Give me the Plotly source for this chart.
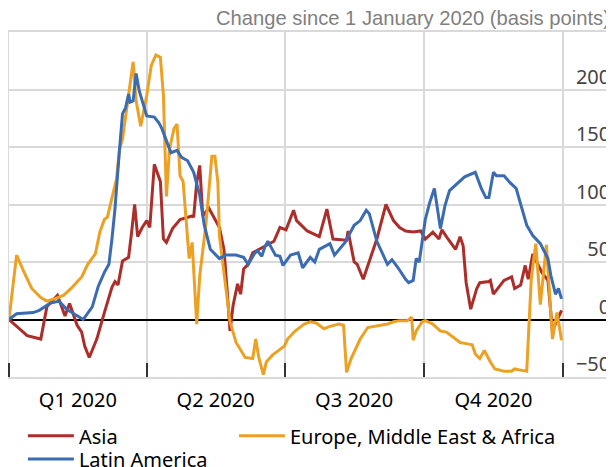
import plotly.graph_objects as go
import pandas as pd

# Days since 1 January 2020 and change in spreads (basis points)
asia_days = [0, 12, 21, 25, 32, 37, 40, 45, 48, 50, 53, 58, 63, 68, 70, 72, 75, 79, 81, 83, 85, 88, 91, 93,
             96, 100, 102, 104, 108, 113, 121, 122, 124, 126, 128, 132, 139, 142, 144, 146, 148, 151, 153,
             155, 158, 161, 168, 175, 179, 183, 188, 190, 197, 205, 210, 214, 223, 224, 228, 230, 234, 243,
             249, 254, 258, 262, 267, 272, 275, 280, 284, 286, 290, 295, 298, 300, 302, 305, 309, 311, 317,
             318, 320, 327, 332, 334, 338, 341, 343, 346, 352, 356, 359, 363, 365]
asia_vals = [0, -14, -17, 11, 21, 3, 14, -5, -11, -23, -33, -17, 6, 28, 33, 30, 51, 54, 76, 100, 72, 80, 86, 80,
             135, 120, 70, 67, 79, 87, 90, 89, 119, 134, 90, 97, 80, 61, 27, -10, 12, 31, 22,
             44, 48, 58, 63, 68, 80, 78, 95, 86, 77, 72, 96, 70, 69, 77, 50, 48, 35, 70,
             100, 86, 80, 77, 76, 77, 70, 76, 70, 78, 70, 61, 72, 64, 32, 9, 27, 32, 33,
             34, 22, 34, 37, 27, 30, 47, 35, 57, 41, 34, -10, 1, 8]

emea_days = [0, 5, 10, 15, 21, 25, 30, 36, 41, 48, 52, 57, 60, 63, 65, 68, 71, 73, 75, 79, 82, 84, 87, 91,
             94, 97, 100, 102, 104, 106, 109, 111, 113, 115, 117, 119, 121, 124, 126, 130, 132, 134, 136,
             138, 139, 143, 146, 150, 156, 161, 163, 165, 168, 170, 174, 179, 182, 184, 189, 195, 199, 203,
             208, 212, 218, 221, 223, 226, 232, 237, 245, 250, 254, 258, 263, 266, 267, 269, 273, 275, 280,
             285, 289, 294, 298, 302, 306, 308, 311, 314, 318, 321, 327, 332, 334, 338, 342, 345, 348, 351,
             353, 355, 359, 362, 365]
emea_vals = [0, 56, 41, 27, 19, 16, 18, 21, 27, 37, 48, 57, 76, 87, 89, 105, 122, 148, 157, 195, 224, 190, 168, 195,
             221, 230, 228, 195, 107, 148, 166, 170, 125, 120, 87, 53, 67, -4, 38, 82, 111, 142, 142,
             119, 73, 27, -2, -20, -33, -34, -17, -33, -48, -37, -31, -26, -23, -17, -10, -4, -2, -3,
             -8, -6, -4, -5, -46, -34, -17, -7, -5, -4, -2, -1, -1, 2, -18, -10, -2, -1, -4,
             -10, -11, -16, -20, -21, -22, -30, -34, -27, -37, -43, -45, -45, -43, -44, -45, 35, 66, 13,
             40, 65, -17, 6, -18]

latam_days = [0, 5, 16, 20, 27, 33, 38, 45, 49, 55, 59, 63, 66, 68, 70, 73, 75, 77, 79, 80, 82, 84, 86, 91,
              96, 99, 101, 107, 111, 114, 118, 122, 126, 129, 133, 139, 143, 150, 155, 158, 162, 164, 167,
              169, 171, 176, 179, 181, 186, 191, 194, 199, 202, 205, 212, 215, 222, 228, 232, 236, 238, 243,
              250, 253, 257, 262, 264, 267, 269, 271, 275, 278, 281, 285, 288, 291, 296, 301, 308, 312, 315,
              317, 320, 322, 327, 331, 335, 339, 342, 346, 351, 356, 358, 361, 363, 365]
latam_vals = [0, 5, 6, 8, 14, 16, 9, 3, 0, 11, 29, 41, 48, 70, 96, 148, 179, 184, 196, 189, 190, 214, 199, 177,
              176, 171, 166, 145, 147, 141, 138, 128, 108, 82, 61, 53, 56, 56, 54, 48, 57, 60, 55,
              63, 68, 56, 55, 47, 56, 58, 45, 54, 50, 61, 66, 56, 67, 82, 86, 95, 92, 68,
              48, 52, 45, 35, 32, 34, 53, 50, 87, 102, 114, 79, 99, 112, 118, 124, 128, 114, 106,
              106, 128, 125, 125, 119, 114, 96, 82, 73, 66, 53, 38, 22, 27, 18]

series_names = ["Asia", "Europe, Middle East & Africa", "Latin America"]
series_colors = ["#AC2E2B", "#ECA124", "#3B6CB2"]
series_legends = ["legend", "legend2", "legend3"]

base = pd.Timestamp("2020-01-01")


def to_dates(days):
    return [base + pd.Timedelta(days=d) for d in days]


fig = go.Figure()
for name, color, lg, days, vals in [
    (series_names[0], series_colors[0], series_legends[0], asia_days, asia_vals),
    (series_names[1], series_colors[1], series_legends[1], emea_days, emea_vals),
    (series_names[2], series_colors[2], series_legends[2], latam_days, latam_vals),
]:
    fig.add_trace(go.Scatter(x=to_dates(days), y=vals, mode="lines", name=name, legend=lg,
                             line=dict(color=color, width=3)))

grid = "#d9d9d9"
legend_common = dict(orientation="v", yanchor="top", xanchor="left", itemwidth=46,
                     font=dict(size=20), bgcolor="rgba(0,0,0,0)", traceorder="normal")
fig.update_layout(
    width=606, height=459,
    margin=dict(l=1, r=1, t=24, b=90, autoexpand=False),
    plot_bgcolor="white", paper_bgcolor="white",
    font=dict(family="Noto Sans", size=20, color="black"),
    showlegend=True,
    legend=dict(x=0.023, y=-0.114, **legend_common),
    legend2=dict(x=0.3724, y=-0.114, **legend_common),
    legend3=dict(x=0.023, y=-0.181, **legend_common),
    xaxis=dict(type="date", range=["2020-01-01", "2021-02-03"], dtick="M3", tick0="2020-01-01",
               tickformat="Q%q %Y", ticklabelmode="period", ticks="inside", ticklen=14,
               tickwidth=1.5, tickcolor="#333333", showgrid=True, gridcolor=grid, gridwidth=1.5,
               showline=True, linecolor=grid, linewidth=1.5, mirror=True, ticklabelstandoff=4),
    yaxis=dict(range=[-50, 250], side="right", tickvals=[-50, 0, 50, 100, 150, 200],
               ticklabelposition="inside", ticklabelshift=-13, ticklabelstandoff=4, ticks="",
               showgrid=True, gridcolor=grid, gridwidth=1.5, zeroline=True, zerolinecolor="black",
               zerolinewidth=1.5, showline=True, linecolor=grid, linewidth=1.5, mirror=True),
    annotations=[dict(text="Change since 1 January 2020 (basis points)", xref="paper", yref="paper",
                      x=0.998, y=1.0, xanchor="right", yanchor="bottom", yshift=1,
                      showarrow=False,
                      font=dict(family="Liberation Sans", size=20.2, color="#7f7f7f"))],
)

fig.write_html("out.html")
